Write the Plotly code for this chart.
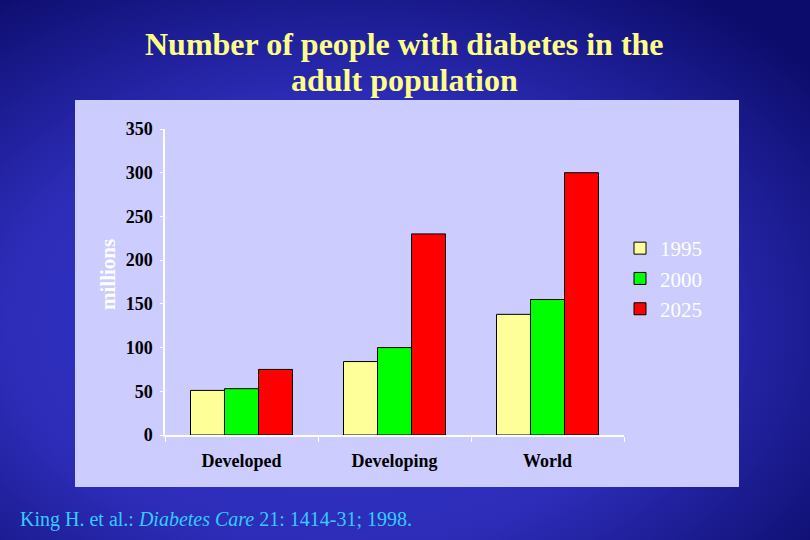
import base64

import plotly.graph_objects as go

# data (millions of adults with diabetes)
regions = ["Developed", "Developing", "World"]
years = ["1995", "2000", "2025"]
cases_1995 = [51, 84, 138]
cases_2000 = [53, 100, 155]
cases_2025 = [75, 230, 300]
y_ticks = [0, 50, 100, 150, 200, 250, 300, 350]

COLORS = {"1995": "#ffff99", "2000": "#00ff00", "2025": "#ff0000"}
SERIF = "Liberation Serif, Times New Roman, serif"

# plot area in page pixels: x 165..624, y 129..435
W, H = 810, 540
L, R, T, B = 165, 186, 129, 105
PW, PH = W - L - R, H - T - B


def px(x):
    return (x - L) / PW


def py(y):
    return (H - B - y) / PH


# slide background: blue radial gradient + lavender chart panel
svg = f"""<svg xmlns="http://www.w3.org/2000/svg" width="{W}" height="{H}" viewBox="0 0 {W} {H}">
<defs><radialGradient id="g" cx="0.42" cy="0.6" r="0.75">
<stop offset="0" stop-color="#3838d0"/><stop offset="0.55" stop-color="#2c2cb8"/>
<stop offset="1" stop-color="#0c0c6c"/></radialGradient></defs>
<rect width="{W}" height="{H}" fill="url(#g)"/>
<rect x="75" y="100" width="664" height="387" fill="#ccccff"/>
</svg>"""
bg_src = "data:image/svg+xml;base64," + base64.b64encode(svg.encode()).decode()

fig = go.Figure()
for yr, vals in zip(years, [cases_1995, cases_2000, cases_2025]):
    fig.add_trace(go.Bar(x=regions, y=vals, name=yr, legendgroup=yr,
                         marker=dict(color=COLORS[yr], line=dict(color="black", width=1))))


def note(text, x, y, size, color, bold=False, **kw):
    kw.setdefault("xanchor", "center")
    return dict(text=text, x=px(x), y=py(y), xref="paper", yref="paper",
                yanchor="middle", showarrow=False,
                font=dict(family=SERIF, size=size, color=color,
                          weight="bold" if bold else "normal"), **kw)


fig.update_layout(
    width=W, height=H, margin=dict(l=L, r=R, t=T, b=B),
    paper_bgcolor="#22229a", plot_bgcolor="rgba(0,0,0,0)",
    barmode="group", bargap=1 / 3, bargroupgap=0,
    showlegend=True,
    legend=dict(x=px(620), y=py(228), xanchor="left", yanchor="top",
                traceorder="grouped", tracegroupgap=0, itemwidth=30,
                bgcolor="rgba(0,0,0,0)",
                font=dict(family=SERIF, size=21, color="white")),
    images=[dict(source=bg_src, xref="paper", yref="paper",
                 x=px(0), y=py(0), sizex=W / PW, sizey=H / PH,
                 xanchor="left", yanchor="top", sizing="stretch", layer="below")],
    xaxis=dict(showline=True, linecolor="white", linewidth=1.5,
               ticks="outside", tickson="boundaries", ticklen=5, tickcolor="white",
               ticklabelstandoff=9,
               tickfont=dict(family=SERIF, size=18, color="black", weight="bold"),
               showgrid=False, zeroline=False, fixedrange=True),
    yaxis=dict(range=[0, 350], tickvals=y_ticks, showline=True, linecolor="white",
               linewidth=1.5, ticks="outside", ticklen=3, tickcolor="white",
               ticklabelstandoff=4,
               tickfont=dict(family=SERIF, size=18, color="black", weight="bold"),
               showgrid=False, zeroline=False, fixedrange=True),
    annotations=[
        note("Number of people with diabetes in the", 404, 44, 32, "#ffff88", bold=True),
        note("adult population", 404, 80, 32, "#ffff88", bold=True),
        note("millions", 108, 275, 21, "white", bold=True, textangle=-90),
        note("King H. et al.: <i>Diabetes Care</i> 21: 1414-31; 1998.", 18, 519, 20,
             "#33ccff", xanchor="left"),
    ],
)

# the page's default body margin would push the slide off the window
fig.write_html("out.html", config={"displayModeBar": False},
               post_script="document.body.style.margin='0';")
